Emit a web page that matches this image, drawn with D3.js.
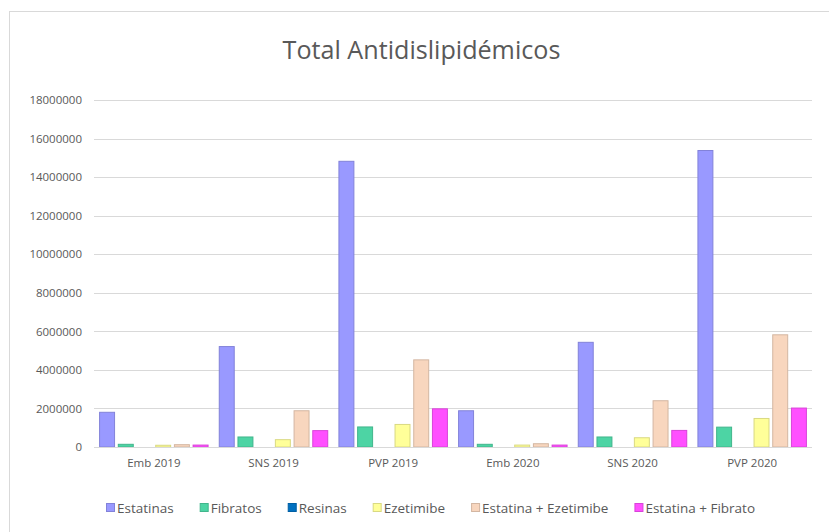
<!DOCTYPE html>
<html><head><meta charset="utf-8">
<script src="https://cdn.jsdelivr.net/npm/d3@7"></script>
<style>html,body{margin:0;padding:0;background:#fff;}svg{display:block;}</style>
</head><body>
<svg id="chart" width="829" height="532"></svg>
<script>
const title = "Total Antidislipidémicos";
const categories = ["Emb 2019","SNS 2019","PVP 2019","Emb 2020","SNS 2020","PVP 2020"];
const seriesNames = ["Estatinas","Fibratos","Resinas","Ezetimibe","Estatina + Ezetimibe","Estatina + Fibrato"];
const seriesColors = ["#9999FF","#4DD4A4","#0070C0","#FFFF99","#F8D6BE","#FF4FFF"];
const estatinas = [1800000, 5210000, 14820000, 1880000, 5430000, 15380000];
const fibratos  = [140000, 520000, 1040000, 140000, 520000, 1030000];
const resinas   = [0, 0, 0, 0, 0, 0];
const ezetimibe = [90000, 380000, 1170000, 100000, 480000, 1480000];
const estEze    = [120000, 1880000, 4520000, 170000, 2400000, 5820000];
const estFib    = [100000, 850000, 1980000, 100000, 860000, 2020000];
const yTicks = [0,2000000,4000000,6000000,8000000,10000000,12000000,14000000,16000000,18000000];

const seriesValues = [estatinas, fibratos, resinas, ezetimibe, estEze, estFib];

const svg = d3.select("#chart");
const font = "'Open Sans', sans-serif";

svg.append("rect").attr("x",9.5).attr("y",11.5).attr("width",830).attr("height",530)
  .attr("fill","#fff").attr("stroke","#d9d9d9").attr("stroke-width",1);

const plotLeft = 94, plotRight = 812, plotTop = 100, plotBottom = 447;
const y = d3.scaleLinear().domain([0, 18000000]).range([plotBottom, plotTop]);
const x0 = d3.scaleBand().domain(categories).range([plotLeft, plotRight]).padding(0);
const m = 5.6;
const x1 = d3.scaleBand().domain(seriesNames).range([m, x0.bandwidth()-m]).paddingInner(0.2).paddingOuter(0);

// gridlines
svg.append("g").selectAll("line").data(yTicks).join("line")
  .attr("x1", plotLeft).attr("x2", plotRight)
  .attr("y1", d => Math.round(y(d))+0.5).attr("y2", d => Math.round(y(d))+0.5)
  .attr("stroke", "#d9d9d9").attr("stroke-width", 1);

// y axis labels
const yAxis = d3.axisLeft(y).tickValues(yTicks).tickFormat(d3.format("d")).tickSize(0).tickPadding(0);
const ga = svg.append("g").attr("transform", `translate(${plotLeft-12},0)`).call(yAxis);
ga.select(".domain").remove();
ga.selectAll("text").attr("font-family", font).attr("font-size", 11.5).attr("fill", "#595959");

// x axis labels
const xAxis = d3.axisBottom(x0).tickSize(0).tickPadding(0);
const gx = svg.append("g").attr("transform", `translate(0,${plotBottom+12})`).call(xAxis);
gx.select(".domain").remove();
gx.selectAll("text").attr("font-family", font).attr("font-size", 11.5).attr("fill", "#595959");

// bars
const rows = [];
categories.forEach((c, i) => seriesNames.forEach((s, j) => rows.push({c, s, j, v: seriesValues[j][i]})));
svg.append("g").selectAll("rect").data(rows.filter(d => d.v > 0)).join("rect")
  .attr("x", d => x0(d.c) + x1(d.s))
  .attr("width", x1.bandwidth())
  .attr("y", d => y(d.v))
  .attr("height", d => y(0) - y(d.v))
  .attr("fill", d => seriesColors[d.j])
  .attr("stroke", d => d3.color(seriesColors[d.j]).darker(0.45))
  .attr("stroke-width", 1);

// axis baseline
svg.append("line").attr("x1", plotLeft).attr("x2", plotRight).attr("y1", Math.round(y(0))+0.5).attr("y2", Math.round(y(0))+0.5)
  .attr("stroke", "#d9d9d9").attr("stroke-width", 1);

// title
const t = svg.append("text").attr("y", 59).attr("text-anchor", "middle")
  .attr("font-family", font).attr("font-size", 23).attr("fill", "#595959").text(title);
const tw = t.node().getComputedTextLength();
t.attr("font-size", 23 * 278 / tw).attr("x", 282.5 + 139);

// legend
const lg = svg.append("g");
let lx = 106;
const ly = 508;
seriesNames.forEach((s, j) => {
  lg.append("rect").attr("x", lx+0.5).attr("y", ly-4.5).attr("width", 8).attr("height", 8)
    .attr("fill", seriesColors[j]).attr("stroke", d3.color(seriesColors[j]).darker(0.45)).attr("stroke-width", 1);
  const tx = lg.append("text").attr("x", lx + 11).attr("y", ly).attr("dy", "0.35em")
    .attr("font-family", font).attr("font-size", 13.5).attr("fill", "#595959").text(s);
  lx = lx + 11 + tx.node().getComputedTextLength() + 26;
});
</script>
</body></html>
